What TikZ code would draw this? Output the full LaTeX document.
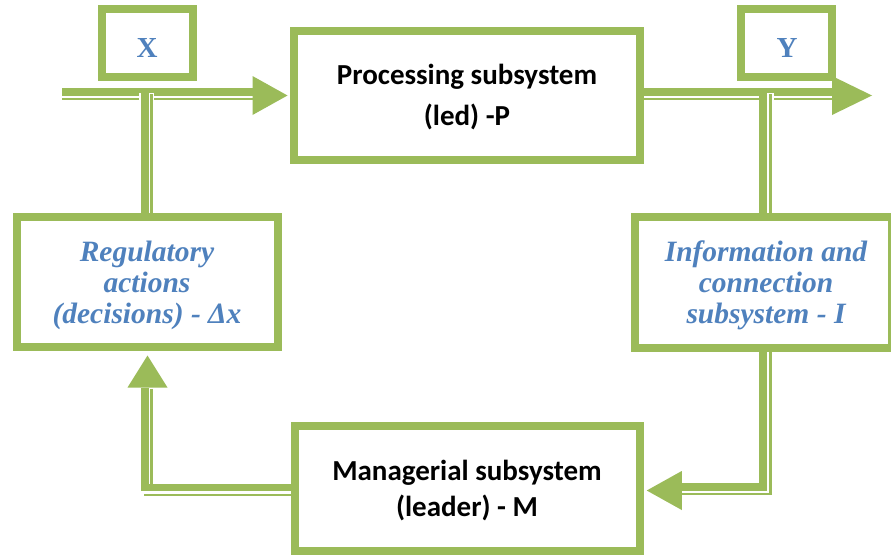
\documentclass[tikz,border=0pt]{standalone}
\usepackage{fontspec}
\newfontfamily\calfont{Carlito}
\newfontfamily\tmsfont{Liberation Serif}
\usetikzlibrary{calc}
\definecolor{G}{HTML}{9BBB59}
\definecolor{B}{HTML}{4F81BD}
\begin{document}
\begin{tikzpicture}[x=1pt,y=-1pt,
  box/.style={draw=G, line width=7.5pt, fill=white, inner sep=0pt},
  inbox/.style={draw=G, line width=2pt},
  thk/.style={draw=G, line width=7.5pt},
  thn/.style={draw=G, line width=2.5pt},
  gapw/.style={draw=white, line width=15pt},
  head/.style={fill=G},
  btext/.style={font=\calfont\bfseries\fontsize{29}{41}\selectfont, align=center, text=black, inner sep=0pt},
  itext/.style={font=\tmsfont\bfseries\itshape\fontsize{29.5}{31}\selectfont, align=center, text=B, inner sep=0pt},
  lett/.style={font=\tmsfont\bfseries\fontsize{29}{30}\selectfont, text=B, inner sep=0pt}]
\useasboundingbox (0,0) rectangle (891,557);
\clip (0,0) rectangle (891,557);
\fill[white] (0,0) rectangle (891,557);

% boxes
\node[box, minimum width=91.5pt, minimum height=68.5pt] (X) at (147.5,43) {};
\node[box, minimum width=91.5pt, minimum height=68.5pt] (Y) at (786.5,43) {};
\node[box, minimum width=346.5pt, minimum height=129.5pt] (P) at (467,95.5) {};
\node[box, minimum width=261.5pt, minimum height=130.5pt] (R) at (147.5,282) {};
\node[box, minimum width=257.5pt, minimum height=131.5pt] (I) at (763.5,282.5) {};
\node[box, minimum width=345.5pt, minimum height=125.5pt] (M) at (467.5,488.5) {};
\foreach \n in {X,Y,P,R,I,M}
  \draw[inbox] ($(\n.north west)+(7,7)$) rectangle ($(\n.south east)+(-7,-7)$);

% input arrow into P
\coordinate (in) at (62,95.5);
\draw[thk] ($(in)+(0,-3.75)$) -- ($(P.west)+(-37.5,-3.75)$);
\draw[thn] ($(in)+(0,3.25)$) -- ($(P.west)+(-37.5,3.25)$);
\fill[head] ($(P.west)+(-2.5,0)$) -- ++(-35,-19.5) -- ++(0,39) -- cycle;

% output arrow from P
\coordinate (out) at (872,95.5);
\draw[thk] ($(P.east)+(0,-3.75)$) -- ($(out)+(-40,-3.75)$);
\draw[thn] ($(P.east)+(0,3.25)$) -- ($(out)+(-40,3.25)$);
\fill[head] (out) -- ++(-40,-19.5) -- ++(0,39) -- cycle;

% R -> up to input line
\draw[gapw] ($(R.north)+(-0.75,-112)$) -- ++(0,-8.5);
\draw[thk] ($(R.north)+(-2.75,0)$) -- ++(0,-125);
\draw[thn] ($(R.north)+(3.75,0)$) -- ++(0,-119.5);

% I -> up to output line
\draw[gapw] ($(I.north)+(3.25,-112)$) -- ++(0,-8.5);
\draw[thk] ($(I.north)+(-0.5,0)$) -- ++(0,-125);
\draw[thn] ($(I.north)+(7,0)$) -- ++(0,-119.5);

% I -> M
\draw[thk] ($(I.south)+(-0.5,0)$) |- ($(M.east)+(37.75,-1.75)$);
\draw[thn] ($(I.south)+(7,0)$) -- ++(0,142.5);
\draw[thn] ($(M.east)+(37.75,5.5)$) -- ++(88,0);
\fill[head] ($(M.east)+(2.75,2)$) -- ++(35,-19.5) -- ++(0,39) -- cycle;

% M -> R
\draw[thk] ($(M.west)+(0,-1)$) -| ($(R.south)+(-2.5,36.75)$);
\draw[thn] ($(M.west)+(0,6.5)$) -- ++(-146.75,0);
\draw[thn] ($(R.south)+(4,37.75)$) -- ++(0,102);
\fill[head] ($(R.south)+(0,4.5)$) -- ++(-20,32) -- ++(40,0) -- cycle;

% texts
\node[lett] (Xt) at (147,48.5) {X};
\node[lett] (Yt) at (787,48.5) {Y};
\node[btext] (Pt) at (467,97) {Processing subsystem\\(led) -P};
\node[btext, font=\calfont\bfseries\fontsize{29}{36}\selectfont] (Mt) at (467,490.5) {Managerial subsystem\\(leader) - M};
\node[itext] (Rt) at (147,285.5) {Regulatory\\actions\\(decisions) - Δx};
\node[itext] (It) at (766,285) {Information and\\connection\\subsystem - I};
\end{tikzpicture}
\end{document}
